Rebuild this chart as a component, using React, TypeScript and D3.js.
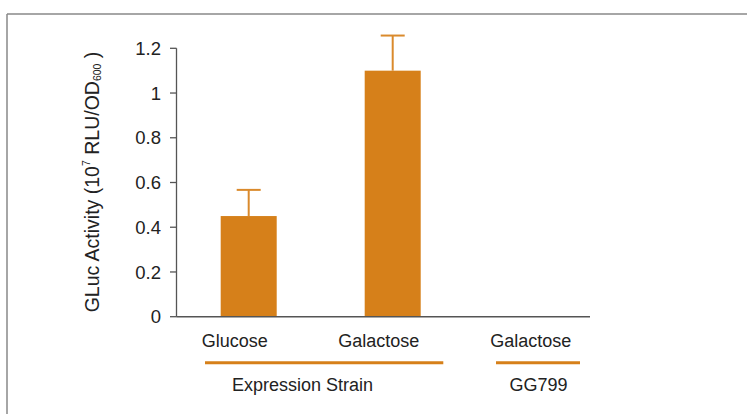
import React from "react";
import * as d3 from "d3";

const categories = ["Glucose", "Galactose", "Galactose"];
const values = [0.45, 1.1, 0];
const errors = [0.117, 0.157, 0];
const yTicks = [0, 0.2, 0.4, 0.6, 0.8, 1, 1.2];
const groups = [
  { label: "Expression Strain", from: 0, to: 1 },
  { label: "GG799", from: 2, to: 2 },
];

const W = 747;
const H = 414;
const ORANGE = "#D6801A";
const ERR = "#DA8A2C";
const AXIS = "#555";
const TEXT = "#222";
const FONT = "'Liberation Sans', Arial, Helvetica, sans-serif";

export default function App() {
  const ids = categories.map((_, i) => `c${i}`);
  const x = d3
    .scaleBand<string>()
    .domain(ids)
    .range([176.7, 608.7])
    .paddingInner(0.611)
    .paddingOuter(0.3055);
  const y = d3.scaleLinear().domain([0, 1.2]).range([316.7, 48.3]);
  const cx = (i: number) => (x(ids[i]) as number) + x.bandwidth() / 2;
  const labelDx = [-14, -14, -6];
  const groupExt = [
    [-43.7, 50.6, 302.5],
    [-40.7, 43.3, 538.5],
  ];
  const axisLeft = 176.5;
  const axisRight = 590;

  return (
    <div style={{ position: "absolute", left: 0, top: 0 }}>
      <svg width={W} height={H} style={{ display: "block", background: "#fff" }} fontFamily={FONT}>
        <line x1={7} y1={14} x2={W} y2={14} stroke="#888" strokeWidth={1.5} />
        <line x1={7} y1={14} x2={7} y2={H} stroke="#888" strokeWidth={1.5} />

        {values.map((v, i) => (
          <rect
            key={`b${i}`}
            x={x(ids[i])}
            y={y(v)}
            width={x.bandwidth()}
            height={y(0) - y(v)}
            fill={ORANGE}
          />
        ))}
        {values.map((v, i) =>
          errors[i] > 0 ? (
            <g key={`e${i}`} stroke={ERR} strokeWidth={2}>
              <line x1={cx(i)} x2={cx(i)} y1={y(v)} y2={y(v + errors[i])} />
              <line x1={cx(i) - 12} x2={cx(i) + 12} y1={y(v + errors[i])} y2={y(v + errors[i])} />
            </g>
          ) : null
        )}

        <line x1={axisLeft} x2={axisLeft} y1={y(1.2)} y2={y(0)} stroke={AXIS} strokeWidth={1.3} />
        {yTicks.map((t) => (
          <g key={`t${t}`}>
            <line x1={170} x2={axisLeft} y1={y(t)} y2={y(t)} stroke={AXIS} strokeWidth={1.3} />
            <text x={161} y={y(t)} dy="0.36em" textAnchor="end" fontSize={18.5} fill={TEXT}>
              {String(t)}
            </text>
          </g>
        ))}
        <line x1={axisLeft} x2={axisRight} y1={y(0)} y2={y(0)} stroke={AXIS} strokeWidth={1.5} />

        {categories.map((c, i) => (
          <text key={`l${i}`} x={cx(i) + labelDx[i]} y={346.7} textAnchor="middle" fontSize={18} fill={TEXT}>
            {c}
          </text>
        ))}

        {groups.map((g, k) => (
          <g key={`g${k}`}>
            <line
              x1={cx(g.from) + groupExt[k][0]}
              x2={cx(g.to) + groupExt[k][1]}
              y1={362.7}
              y2={362.7}
              stroke={ORANGE}
              strokeWidth={3}
            />
            <text x={groupExt[k][2]} y={391} textAnchor="middle" fontSize={18} fill={TEXT}>
              {g.label}
            </text>
          </g>
        ))}

        <text
          transform="translate(92,182) rotate(-90)"
          textAnchor="middle"
          dominantBaseline="central"
          fontSize={19.5}
          fill={TEXT}
        >
          GLuc Activity (10
          <tspan fontSize={10.5} dy={-6}>7</tspan>
          <tspan dy={6}> RLU/OD</tspan>
          <tspan fontSize={10.5} dy={5}>600</tspan>
          <tspan dy={-5}> )</tspan>
        </text>
      </svg>
    </div>
  );
}
